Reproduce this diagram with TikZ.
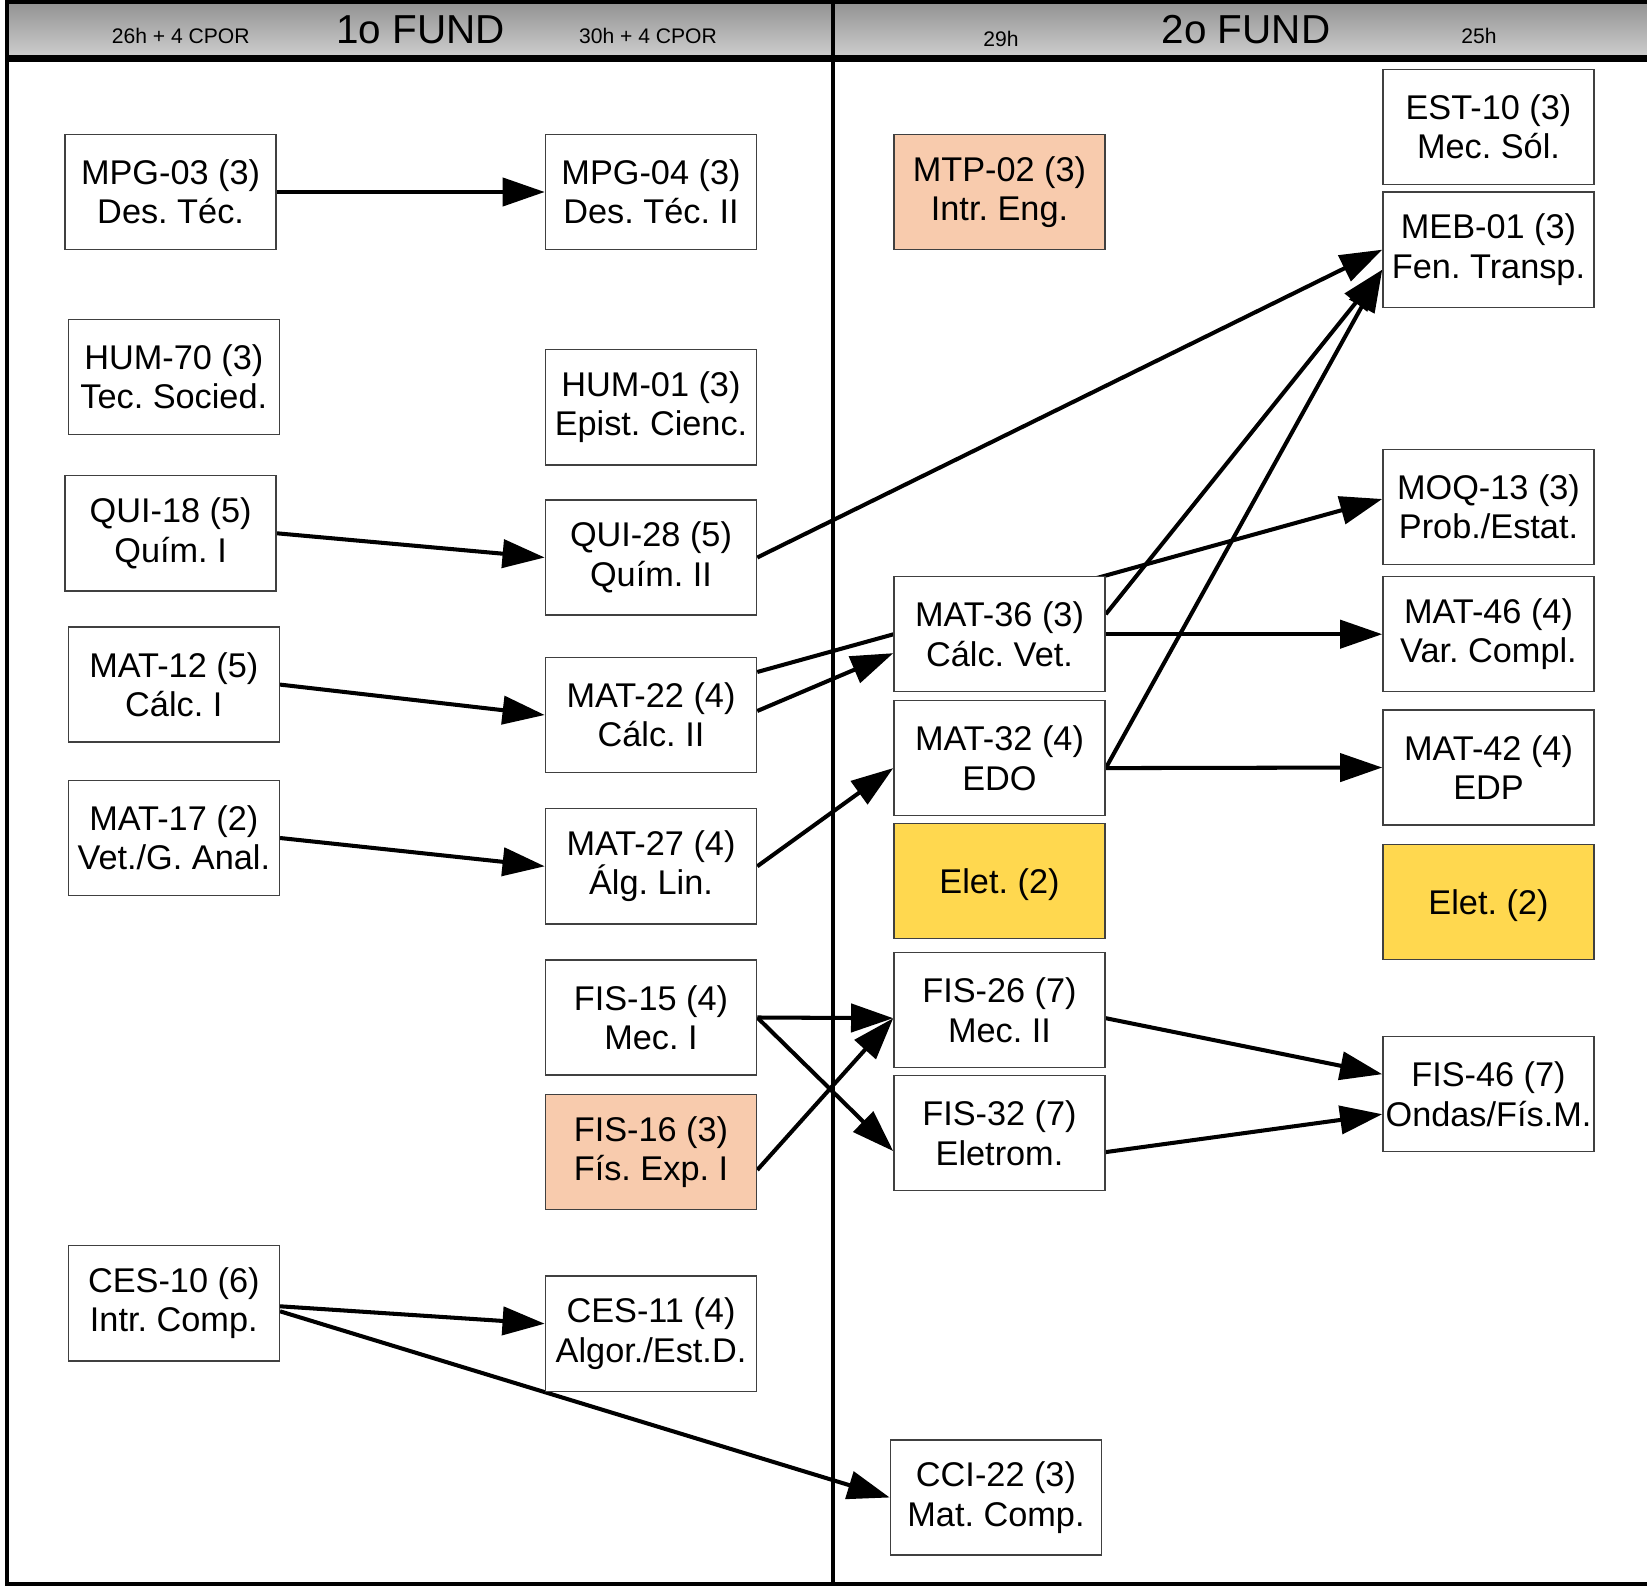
\documentclass[tikz,border=0pt]{standalone}
\usepackage{fontspec}
\setmainfont{Liberation Sans}
\usetikzlibrary{arrows.meta,backgrounds,calc}
\definecolor{peach}{HTML}{F8CBAD}
\definecolor{gold}{HTML}{FFD84F}
\frenchspacing

\begin{document}
\begin{tikzpicture}[
        x=0.01cm, y=-0.01cm,
        disc/.style={rectangle, draw=black!75, line width=0.4pt, fill=white, minimum width=2.11cm, minimum height=1.15cm, inner sep=0pt, align=center, font=\fontsize{9.75}{11.2}\selectfont},
        disc_lab/.style={disc, fill=peach},
        disc_elet/.style={disc, fill=gold, text depth=0pt},
        req/.style={-{Triangle[length=12pt,width=8pt]}, line width=1.15pt},
        hdr_big/.style={anchor=base, font=\fontsize{11.5}{12}\selectfont},
        hdr_small/.style={anchor=base, font=\fontsize{6}{7}\selectfont}
    ]
        \useasboundingbox (0,0) rectangle (1647,1588);

        % Header labels
        \node[hdr_small] (h26) at (180.7,44) {26h + 4 CPOR};
        \node[hdr_big] (fund1) at (420.5,44) {1o FUND};
        \node[hdr_small] (h30) at (648,44) {30h + 4 CPOR};
        \node[hdr_small] (h29) at (1001,47) {29h};
        \node[hdr_big] (fund2) at (1246,44) {2o FUND};
        \node[hdr_small] (h25) at (1479,44) {25h};

        % First semester, first column
        \node[disc] (mpg03) at (170.6,192) {MPG-03 (3)\\Des. Téc.};
        \node[disc] (hum70) at (173.8,376.8) {HUM-70 (3)\\Tec. Socied.};
        \node[disc] (qui18) at (170.6,533.3) {QUI-18 (5)\\Quím. I};
        \node[disc] (mat12) at (173.8,684.6) {MAT-12 (5)\\Cálc. I};
        \node[disc] (mat17) at (173.8,838) {MAT-17 (2)\\Vet./G. Anal.};
        \node[disc] (ces10) at (173.8,1303.3) {CES-10 (6)\\Intr. Comp.};

        % First semester, second column
        \node[disc] (mpg04) at (651,192) {MPG-04 (3)\\Des. Téc. II};
        \node[disc] (hum01) at (651,407.3) {HUM-01 (3)\\Epist. Cienc.};
        \node[disc] (qui28) at (651,557.5) {QUI-28 (5)\\Quím. II};
        \node[disc] (mat22) at (651,715) {MAT-22 (4)\\Cálc. II};
        \node[disc] (mat27) at (651,866.3) {MAT-27 (4)\\Álg. Lin.};
        \node[disc] (fis15) at (651,1017.5) {FIS-15 (4)\\Mec. I};
        \node[disc_lab] (fis16) at (651,1152) {FIS-16 (3)\\Fís. Exp. I};
        \node[disc] (ces11) at (651,1333.7) {CES-11 (4)\\Algor./Est.D.};

        % Second semester, first column
        \node[disc_lab] (mtp02) at (999.5,192) {MTP-02 (3)\\Intr. Eng.};
        \node[disc] (mat36) at (999.5,634.2) {MAT-36 (3)\\Cálc. Vet.};
        \node[disc] (mat32) at (999.5,758.1) {MAT-32 (4)\\EDO};
        \node[disc_elet] (elet1) at (999.5,881) {Elet. (2)};
        \node[disc] (fis26) at (999.5,1010.2) {FIS-26 (7)\\Mec. II};
        \node[disc] (fis32) at (999.5,1133.1) {FIS-32 (7)\\Eletrom.};
        \node[disc] (cci22) at (996,1497.5) {CCI-22 (3)\\Mat. Comp.};

        % Second semester, second column
        \node[disc] (est10) at (1488.5,126.8) {EST-10 (3)\\Mec. Sól.};
        \node[disc] (meb01) at (1488.5,249.7) {MEB-01 (3)\\Fen. Transp.};
        \node[disc] (moq13) at (1488.5,507) {MOQ-13 (3)\\Prob./Estat.};
        \node[disc] (mat46) at (1488.5,634.2) {MAT-46 (4)\\Var. Compl.};
        \node[disc] (mat42) at (1488.5,767.5) {MAT-42 (4)\\EDP};
        \node[disc_elet] (elet2) at (1488.5,902) {Elet. (2)};
        \node[disc] (fis46) at (1488.5,1094.2) {FIS-46 (7)\\Ondas/Fís.M.};

        \begin{scope}[on background layer]
            % Frame and header band
            \fill[top color=black!42, bottom color=black!20] (7,4) rectangle (1647,55);
            \draw[line width=1.2pt] (1647,2) -- (7,2) -- (7,1584) -- (1647,1584);
            \draw[line width=2pt] (7,58.5) -- (1647,58.5);
            \draw[line width=1.4pt] (833,2) -- (833,1584);

            % Prerequisites
            \draw[req] (mpg03.east) -- (mpg04.west);
            \draw[req] (qui18.east) -- (qui28.west);
            \draw[req] (qui28.east) -- (meb01.west);
            \draw[req] (mat12.east) -- (mat22.west);
            \draw[req] (mat17.east) -- (mat27.west);
            \draw[req] ($(mat22.east)+(0,-43)$) -- ($(moq13.west)+(0,-8)$);
            \draw[req] ($(mat22.east)+(0,-4)$) -- ($(mat36.west)+(0,19)$);
            \draw[req] (mat27.east) -- ($(mat32.west)+(0,10)$);
            \draw[req] ($(mat36.east)+(0,-20)$) -- ($(meb01.west)+(0,20)$);
            \draw[req] ($(mat32.east)+(0,10)$) -- ($(meb01.west)+(0,20)$);
            \draw[req] (mat36.east) -- (mat46.west);
            \draw[req] ($(mat32.east)+(0,10)$) -- (mat42.west);
            \draw[req] (fis15.east) -- ($(fis26.west)+(0,8)$);
            \draw[req] (fis15.east) -- ($(fis32.west)+(0,18)$);
            \draw[req] ($(fis16.east)+(0,18)$) -- ($(fis26.west)+(0,8)$);
            \draw[req] ($(fis26.east)+(0,8)$) -- ($(fis46.west)+(0,-20)$);
            \draw[req] ($(fis32.east)+(0,19)$) -- ($(fis46.west)+(0,20)$);
            \draw[req] ($(ces10.east)+(0,3)$) -- ($(ces11.west)+(0,-10)$);
            \draw[req] ($(ces10.east)+(0,8)$) -- (cci22.west);
        \end{scope}

    \end{tikzpicture}
\end{document}
